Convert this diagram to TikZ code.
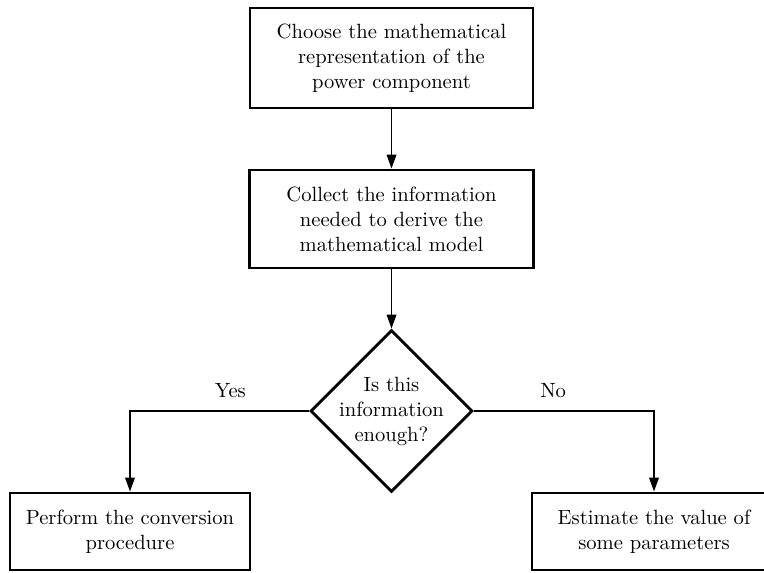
\documentclass[tikz,border=0pt]{standalone}
\usepackage{tikz}
\usepackage{amsmath}
\usetikzlibrary{shapes.geometric,arrows.meta}

\tikzset{
 stepbox/.style={draw, line width=1.4pt, align=center, inner sep=2pt,
  font=\fontsize{10.3}{12.5}\selectfont},
 decision/.style={draw, diamond, line width=1.4pt, minimum width=81pt,
  minimum height=81pt, inner sep=0pt},
 arr/.style={line width=0.9pt,->,>={Triangle[length=7pt,width=4.8pt]}},
}

\begin{document}
\begin{tikzpicture}[x=0.5pt,y=-0.5pt]
 \useasboundingbox (0,0) rectangle (764,572); %全体の大きさ
 \node[stepbox, minimum width=141.5pt, minimum height=50pt] (choose) at (391.5,58)
  {Choose the mathematical\\representation of the\\power component}; %表現の選択
 \node[stepbox, minimum width=142pt, minimum height=49pt] (collect) at (391.5,219)
  {Collect the information\\needed to derive the\\mathematical model}; %情報収集
 \node[decision, label={[align=center, font=\fontsize{10.3}{12.5}\selectfont]center:Is this\\information\\enough?}]
  (check) at (391.5,411) {}; %判定
 \node[stepbox, minimum width=120pt, minimum height=38.5pt] (perform) at (130,531.5)
  {Perform the conversion\\procedure}; %変換
 \node[stepbox, minimum width=122pt, minimum height=38.5pt] (estimate) at (654,531.5)
  {Estimate the value of\\some parameters}; %推定
 \draw[arr] (choose) -- (collect);
 \draw[arr] (collect) -- (check);
 \draw[arr] (check.west) -| node[pos=0.22, above=3pt, font=\fontsize{10.3}{12.5}\selectfont] {Yes} (perform.north); %Yes側
 \draw[arr] (check.east) -| node[pos=0.22, above=3pt, font=\fontsize{10.3}{12.5}\selectfont] {No} (estimate.north); %No側
\end{tikzpicture}
\end{document}
